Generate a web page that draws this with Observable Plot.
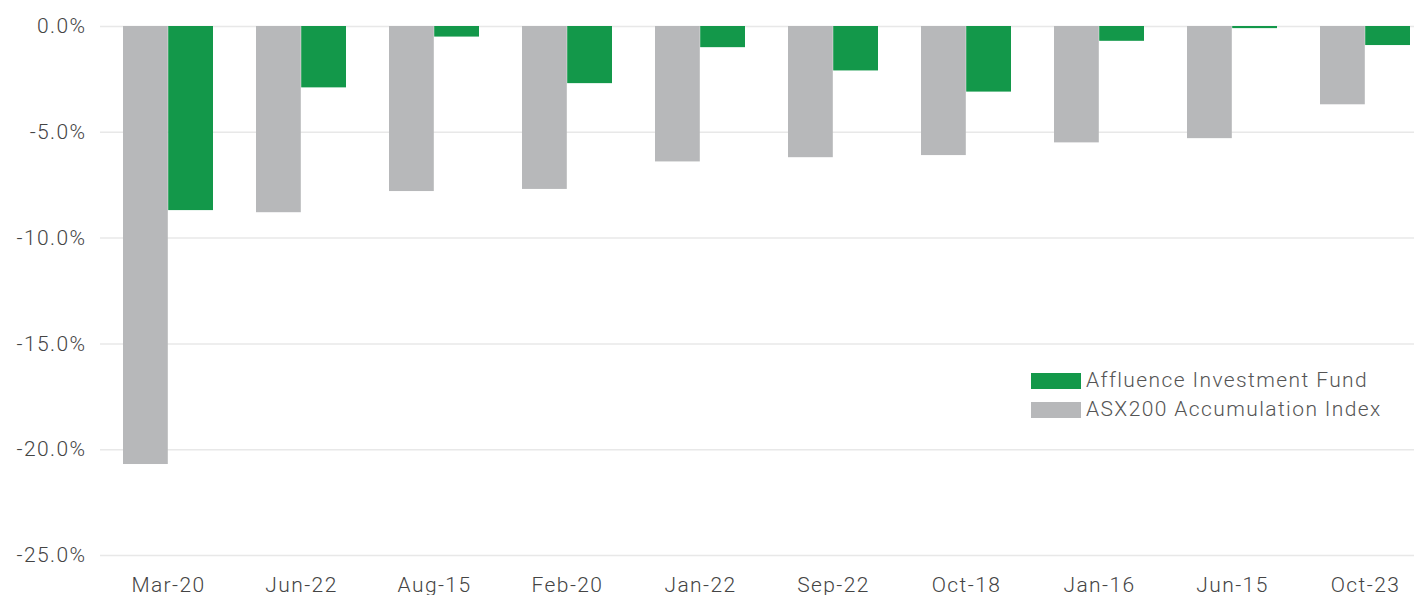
<!DOCTYPE html>
<html>
<head>
<meta charset="utf-8">
<script src="https://cdn.jsdelivr.net/npm/d3@7"></script>
<script src="https://cdn.jsdelivr.net/npm/@observablehq/plot@0.6"></script>
<style>
  html, body { margin: 0; padding: 0; background: #fff; overflow: hidden; }
  #wrap { position: relative; width: 1414px; height: 595px; overflow: hidden; }
  #wrap svg text { letter-spacing: 1.4px; }
  #legend { position: absolute; left: 1031px; top: 366px; font-family: Roboto, sans-serif; font-weight: 300; font-size: 21px; letter-spacing: 1.4px; color: #555; line-height: 29px; }
  #legend .row { display: flex; align-items: center; white-space: nowrap; }
  #legend .sw { width: 50px; height: 16px; margin-right: 5px; }
</style>
</head>
<body>
<div id="wrap"><div id="legend"></div></div>
<script>
const categories = ["Mar-20","Jun-22","Aug-15","Feb-20","Jan-22","Sep-22","Oct-18","Jan-16","Jun-15","Oct-23"];
const fundValues = [-8.7, -2.9, -0.5, -2.7, -1.0, -2.1, -3.1, -0.7, -0.1, -0.9];
const indexValues = [-20.7, -8.8, -7.8, -7.7, -6.4, -6.2, -6.1, -5.5, -5.3, -3.7];
const seriesNames = ["Affluence Investment Fund", "ASX200 Accumulation Index"];
const seriesColors = ["#13984a", "#b7b8ba"];
const yTicks = [0, -5, -10, -15, -20, -25];

const fund = categories.map((c, i) => ({cat: c, v: fundValues[i]}));
const index = categories.map((c, i) => ({cat: c, v: indexValues[i]}));

const W = 1414, H = 595;
const step = 133.2;
const bandW = 90.4;
const half = bandW / 2;

const chart = Plot.plot({
  width: W,
  height: H,
  marginLeft: 100,
  marginRight: 0,
  marginTop: 26,
  marginBottom: 40,
  style: {fontFamily: "Roboto, sans-serif", fontWeight: 300, fontSize: "21px", color: "#444", background: "#fff", overflow: "hidden"},
  x: {domain: categories, range: [100.4, 100.4 + step * categories.length], paddingInner: 1 - bandW / step, paddingOuter: (1 - bandW / step) / 2, align: 0.5, label: null},
  y: {domain: [-25, 0], label: null},
  marks: [
    Plot.ruleY(yTicks, {stroke: "#e8e8e8", strokeWidth: 1.5}),
    Plot.barY(index, {x: "cat", y: "v", fill: seriesColors[1], insetRight: half}),
    Plot.barY(fund, {x: "cat", y: "v", fill: seriesColors[0], insetLeft: half}),
    Plot.axisY({ticks: yTicks, tickFormat: d => d.toFixed(1) + "%", tickSize: 0, tickPadding: 14, fontSize: 21, fill: "#444"}),
    Plot.axisX({tickSize: 0, tickPadding: 22, fontSize: 21, fill: "#444"})
  ]
});
document.getElementById("wrap").prepend(chart);

const legend = document.getElementById("legend");
seriesNames.forEach((n, i) => {
  const row = document.createElement("div");
  row.className = "row";
  const sw = document.createElement("div");
  sw.className = "sw";
  sw.style.background = seriesColors[i];
  const t = document.createElement("span");
  t.textContent = n;
  row.append(sw, t);
  legend.append(row);
});
</script>
</body>
</html>
